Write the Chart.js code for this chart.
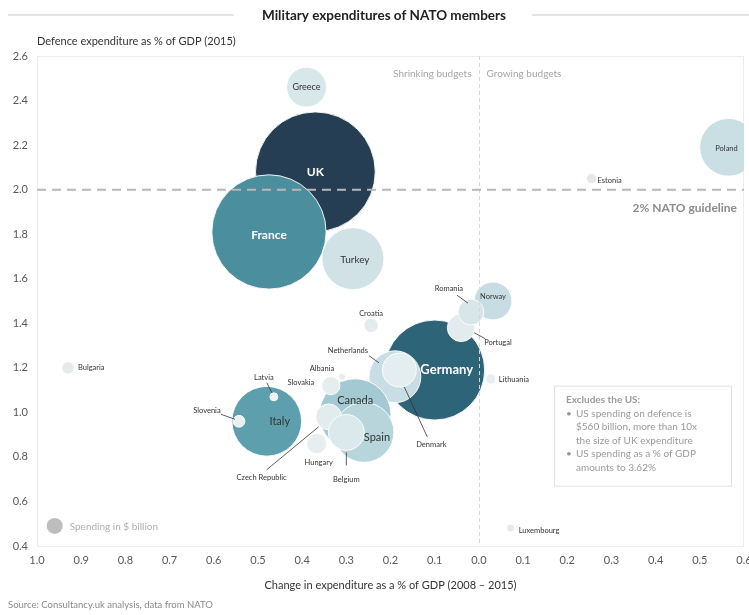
<!DOCTYPE html>
<html>
<head>
<meta charset="utf-8">
<script src="https://cdn.jsdelivr.net/npm/chart.js@4"></script>
<style>
  body { margin: 0; background: #fff; }
  #wrap { width: 749px; height: 615px; position: relative; }
</style>
</head>
<body>
<div id="wrap"><canvas id="chartNato"></canvas></div>
<script>
// data (x = change in % of GDP 2008-2015, y = % of GDP 2015, spending in $bn)
const countries = ['UK', 'France', 'Turkey', 'Greece', 'Poland', 'Germany', 'Netherlands', 'Denmark',
  'Norway', 'Portugal', 'Romania', 'Croatia', 'Italy', 'Slovenia', 'Latvia', 'Canada', 'Spain',
  'Czech Republic', 'Belgium', 'Hungary', 'Slovakia', 'Albania', 'Bulgaria', 'Lithuania', 'Estonia', 'Luxembourg'];
const changeGdp = [-0.37, -0.475, -0.285, -0.39, 0.565, -0.10, -0.19, -0.18,
  0.032, -0.04, -0.018, -0.244, -0.48, -0.543, -0.464, -0.28, -0.26,
  -0.34, -0.30, -0.367, -0.335, -0.31, -0.93, 0.027, 0.255, 0.072];
const gdpShare = [2.08, 1.81, 1.69, 2.46, 2.19, 1.19, 1.16, 1.19,
  1.50, 1.38, 1.45, 1.39, 0.96, 0.96, 1.07, 0.99, 0.91,
  0.98, 0.91, 0.86, 1.12, 1.16, 1.20, 1.15, 2.05, 0.48];
const spendingBn = [56, 51, 15, 6.2, 13, 39, 10.5, 4.5,
  5.6, 3, 2.6, 0.8, 19, 0.55, 0.25, 20, 14,
  2.6, 5, 1.6, 1.3, 0.2, 0.6, 0.4, 0.4, 0.25];
const xTicks = [-1.0, -0.9, -0.8, -0.7, -0.6, -0.5, -0.4, -0.3, -0.2, -0.1, 0, 0.1, 0.2, 0.3, 0.4, 0.5, 0.6];
const yTicks = [0.4, 0.6, 0.8, 1.0, 1.2, 1.4, 1.6, 1.8, 2.0, 2.2, 2.4, 2.6];
const guideline = 2.0;

const colors = ['#263e53', '#4b8e9e', '#d0e2e6', '#d8e7ea', '#c9dfe4', '#2e6478', '#c9dee4', '#e4eef0',
  '#c8dde3', '#e2ecee', '#d8e6ea', '#e2ebee', '#5e9fae', '#e8f0f2', '#eef4f5', '#a3c9d2', '#b8d5dc',
  '#e2ebed', '#dce9ec', '#e8eef0', '#e5edef', '#e6eef0', '#e6e9ea', '#e6eef0', '#e6e9ea', '#e6e9ea'];

// label styling: offset from bubble centre, size, colour, optional leader line
const labelStyle = {
  'UK': { dx: 0, dy: 0, size: 12, color: '#fff', bold: true },
  'France': { dx: 0, dy: 3, size: 12, color: '#fff', bold: true },
  'Germany': { dx: 12, dy: 0, size: 13, color: '#fff', bold: true },
  'Italy': { dx: 13, dy: 0, size: 11, color: '#333' },
  'Canada': { dx: 0, dy: -14, size: 11, color: '#333' },
  'Spain': { dx: 13, dy: 5, size: 11, color: '#333' },
  'Turkey': { dx: 2, dy: 1, size: 10, color: '#333' },
  'Greece': { dx: 0, dy: 0, size: 9, color: '#333' },
  'Norway': { dx: 0, dy: -4, size: 7.5, color: '#333' },
  'Poland': { dx: -2, dy: 1, size: 7.5, color: '#333' },
  'Romania': { dx: -22, dy: -24, line: [-14, -17, -3, -9] },
  'Portugal': { dx: 23, dy: 15, align: 'left', line: [13, 5, 24, 11] },
  'Netherlands': { dx: -47, dy: -26, line: [-26, -21, -16, -14] },
  'Denmark': { dx: 32, dy: 75, line: [5, 17, 28, 67] },
  'Czech Republic': { dx: -67, dy: 61, line: [-62, 53, -10, 10] },
  'Belgium': { dx: 0, dy: 47, line: [0, 20, 0, 33] },
  'Hungary': { dx: 2, dy: 19 },
  'Slovakia': { dx: -30, dy: -3 },
  'Albania': { dx: -20, dy: -8 },
  'Latvia': { dx: -10, dy: -19, line: [-7, -14, -2, -4] },
  'Slovenia': { dx: -32, dy: -11, line: [-18, -7, -4, -2] },
  'Croatia': { dx: 0, dy: -12 },
  'Bulgaria': { dx: 10, dy: 0, align: 'left' },
  'Lithuania': { dx: 8, dy: 1, align: 'left' },
  'Estonia': { dx: 6, dy: 2, align: 'left' },
  'Luxembourg': { dx: 8, dy: 2, align: 'left' }
};

const FONT = 'Lato, "Noto Sans", sans-serif';
const bubbles = countries.map((c, i) => ({ x: changeGdp[i], y: gdpShare[i], r: 8 * Math.sqrt(spendingBn[i]) }));

const decorations = {
  id: 'decorations',
  beforeDatasetsDraw(chart) {
    const ctx = chart.ctx, a = chart.chartArea;
    ctx.save();
    ctx.strokeStyle = '#ececec';
    ctx.lineWidth = 1;
    ctx.strokeRect(a.left + 0.5, a.top + 0.5, a.right - a.left - 1, a.bottom - a.top);
    ctx.restore();
  },
  afterDatasetsDraw(chart) {
    const ctx = chart.ctx, a = chart.chartArea;
    const xs = chart.scales.x, ys = chart.scales.y;
    ctx.save();
    // zero line
    const x0 = Math.round(xs.getPixelForValue(0)) + 0.5;
    ctx.strokeStyle = '#d6d6d6';
    ctx.lineWidth = 1;
    ctx.setLineDash([4, 3]);
    ctx.beginPath(); ctx.moveTo(x0, a.top); ctx.lineTo(x0, a.bottom); ctx.stroke();
    // 2% guideline
    const yg = ys.getPixelForValue(guideline);
    ctx.strokeStyle = '#b8b8b8';
    ctx.lineWidth = 2;
    ctx.setLineDash([9, 6]);
    ctx.beginPath(); ctx.moveTo(a.left, yg); ctx.lineTo(a.right, yg); ctx.stroke();
    ctx.setLineDash([]);

    // country labels
    ctx.textBaseline = 'middle';
    countries.forEach((c, i) => {
      const s = labelStyle[c] || {};
      const px = xs.getPixelForValue(changeGdp[i]), py = ys.getPixelForValue(gdpShare[i]);
      if (s.line) {
        ctx.strokeStyle = '#333';
        ctx.lineWidth = 0.8;
        ctx.beginPath();
        ctx.moveTo(px + s.line[0], py + s.line[1]);
        ctx.lineTo(px + s.line[2], py + s.line[3]);
        ctx.stroke();
      }
      ctx.fillStyle = s.color || '#333';
      ctx.font = (s.bold ? 'bold ' : '') + (s.size || 7.5) + 'px ' + FONT;
      ctx.textAlign = s.align || 'center';
      ctx.fillText(c, px + (s.dx || 0), py + (s.dy || 0));
    });

    // quadrant captions
    ctx.font = '10px ' + FONT;
    ctx.fillStyle = '#a6a6a6';
    const yc = ys.getPixelForValue(2.52);
    ctx.textAlign = 'right';
    ctx.fillText('Shrinking budgets', x0 - 8, yc);
    ctx.textAlign = 'left';
    ctx.fillText('Growing budgets', x0 + 7, yc);

    ctx.font = 'bold 12px ' + FONT;
    ctx.fillStyle = '#8c8c8c';
    ctx.textAlign = 'right';
    ctx.fillText('2% NATO guideline', a.right - 7, yg + 18);

    // note box
    const bx = xs.getPixelForValue(0.17), by = ys.getPixelForValue(1.12);
    const bw = 177, bh = 100;
    ctx.fillStyle = '#fff';
    ctx.fillRect(bx, by, bw, bh);
    ctx.strokeStyle = '#e0e0e0';
    ctx.lineWidth = 1;
    ctx.strokeRect(bx + 0.5, by + 0.5, bw, bh);
    ctx.fillStyle = '#9a9a9a';
    ctx.textAlign = 'left';
    ctx.font = 'bold 10px ' + FONT;
    ctx.fillText('Excludes the US:', bx + 12, by + 14);
    ctx.font = '10px ' + FONT;
    const lines = [['•', 'US spending on defence is'], ['', '$560 billion, more than 10x'], ['', 'the size of UK expenditure'],
      ['•', 'US spending as a % of GDP'], ['', 'amounts to 3.62%']];
    lines.forEach((l, k) => {
      const ly = by + 28 + k * 13.5;
      if (l[0]) ctx.fillText(l[0], bx + 12, ly);
      ctx.fillText(l[1], bx + 22, ly);
    });

    // size legend
    ctx.fillStyle = '#bdbdbd';
    ctx.beginPath();
    ctx.arc(xs.getPixelForValue(-0.96), ys.getPixelForValue(0.49), 8, 0, Math.PI * 2);
    ctx.fill();
    ctx.fillStyle = '#b0b0b0';
    ctx.font = '10px ' + FONT;
    ctx.fillText('Spending in $ billion', xs.getPixelForValue(-0.96) + 15, ys.getPixelForValue(0.49) + 1);
    ctx.restore();
  },
  afterDraw(chart) {
    const ctx = chart.ctx, w = chart.width;
    ctx.save();
    ctx.textBaseline = 'middle';
    ctx.font = 'bold 13.5px ' + FONT;
    ctx.fillStyle = '#222';
    ctx.textAlign = 'center';
    ctx.fillText('Military expenditures of NATO members', 384, 16);
    ctx.strokeStyle = '#dcdcdc';
    ctx.lineWidth = 1.5;
    ctx.beginPath();
    ctx.moveTo(8, 15); ctx.lineTo(234, 15);
    ctx.moveTo(532, 15); ctx.lineTo(w, 15);
    ctx.stroke();
    ctx.font = '11px ' + FONT;
    ctx.fillStyle = '#333';
    ctx.textAlign = 'left';
    ctx.fillText('Defence expenditure as % of GDP (2015)', 37, 41);
    ctx.font = '9.5px ' + FONT;
    ctx.fillStyle = '#8a8a8a';
    ctx.fillText('Source: Consultancy.uk analysis, data from NATO', 8, 605);
    ctx.restore();
  }
};

const ctxNato = document.getElementById('chartNato').getContext('2d');
const chartNato = new Chart(ctxNato, {
  type: 'bubble',
  data: {
    datasets: [{
      label: 'Defence spending',
      data: bubbles,
      backgroundColor: colors,
      borderColor: 'rgba(255,255,255,0.9)',
      borderWidth: 1
    }]
  },
  options: {
    responsive: true,
    maintainAspectRatio: false,
    animation: false,
    events: [],
    layout: { autoPadding: false, padding: { top: 56, right: 5, bottom: 20, left: 0 } },
    plugins: { legend: { display: false }, tooltip: { enabled: false } },
    scales: {
      x: {
        type: 'linear',
        min: xTicks[0],
        max: xTicks[xTicks.length - 1],
        afterFit: (s) => { s.height = 49; s.paddingLeft = 0; s.paddingRight = 0; },
        afterBuildTicks: (s) => { s.ticks = xTicks.map(v => ({ value: v })); },
        ticks: {
          padding: 8,
          color: '#595959',
          font: { family: FONT, size: 11 },
          callback: (v) => Math.abs(v).toFixed(1)
        },
        grid: { display: false, drawTicks: false },
        border: { display: false },
        title: {
          display: true,
          text: 'Change in expenditure as a % of GDP (2008 – 2015)',
          color: '#333',
          font: { family: FONT, size: 11 },
          padding: { top: 0, bottom: 3 }
        }
      },
      y: {
        min: yTicks[0],
        max: yTicks[yTicks.length - 1],
        afterFit: (s) => { s.width = 37; s.paddingTop = 0; s.paddingBottom = 0; },
        afterBuildTicks: (s) => { s.ticks = yTicks.map(v => ({ value: v })); },
        ticks: {
          padding: 9,
          color: '#595959',
          font: { family: FONT, size: 11 },
          callback: (v) => v.toFixed(1)
        },
        grid: { display: false, drawTicks: false },
        border: { display: false }
      }
    }
  },
  plugins: [decorations]
});
</script>
</body>
</html>
